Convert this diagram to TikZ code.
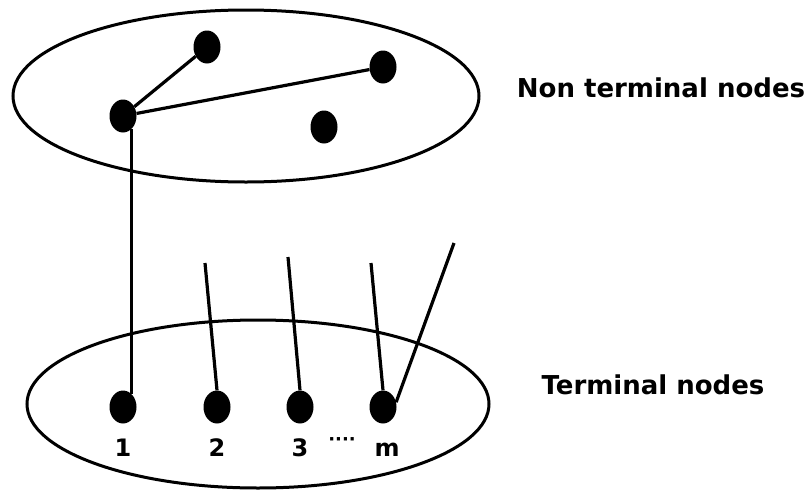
\documentclass[tikz,border=0pt]{standalone}
\usepackage{fontspec}
\setmainfont{DejaVu Sans}
\usetikzlibrary{shapes.geometric}
\begin{document}
\begin{tikzpicture}[x=1pt,y=-1pt,
  dot/.style={ellipse,fill=black,draw=none,minimum width=27pt,minimum height=33pt,inner sep=0pt},
  group/.style={ellipse,draw=black,line width=3pt,inner sep=0pt},
  conn/.style={line width=3.2pt},
  lab/.style={font=\bfseries\fontsize{26}{30}\selectfont,inner sep=0pt},
  num/.style={font=\bfseries\fontsize{24}{28}\selectfont,inner sep=0pt}]
\useasboundingbox (0,0) rectangle (811,490);
% group ellipses
\node[group,minimum width=466pt,minimum height=172pt] (top) at (246,96) {};
\node[group,minimum width=462pt,minimum height=168pt] (bot) at (258,404) {};
% non terminal nodes
\node[dot] (a) at (207,47) {};
\node[dot] (b) at (383,67) {};
\node[dot] (c) at (123,116) {};
\node[dot] (d) at (324,127) {};
% terminal nodes
\node[dot] (t1) at (123,407) {};
\node[dot] (t2) at (217,407) {};
\node[dot] (t3) at (300,407) {};
\node[dot] (tm) at (383,407) {};
% free ends
\coordinate (e2) at (205,263);
\coordinate (e3) at (288,257);
\coordinate (em) at (371,263);
\coordinate (ex) at (454,243);
% connectors
\draw[conn] (c) -- (a);
\draw[conn] (c) -- (b);
\draw[conn] (c.-55) -- (t1.55);
\draw[conn] (e2) -- (t2.north);
\draw[conn] (e3) -- (t3.north);
\draw[conn] (em) -- (tm.north);
\draw[conn] (tm.20) -- (ex);
% labels
\node[num] (l1) at (123,448) {1};
\node[num] (l2) at (217,448) {2};
\node[num] (l3) at (300,448) {3};
\node[num,font=\bfseries\fontsize{18}{20}\selectfont] (ld) at (342,442) {····};
\node[num] (lm) at (387,450) {m};
\node[lab] (nt) at (661,88) {Non terminal nodes};
\node[lab] (tn) at (653,385) {Terminal nodes};
\end{tikzpicture}
\end{document}
